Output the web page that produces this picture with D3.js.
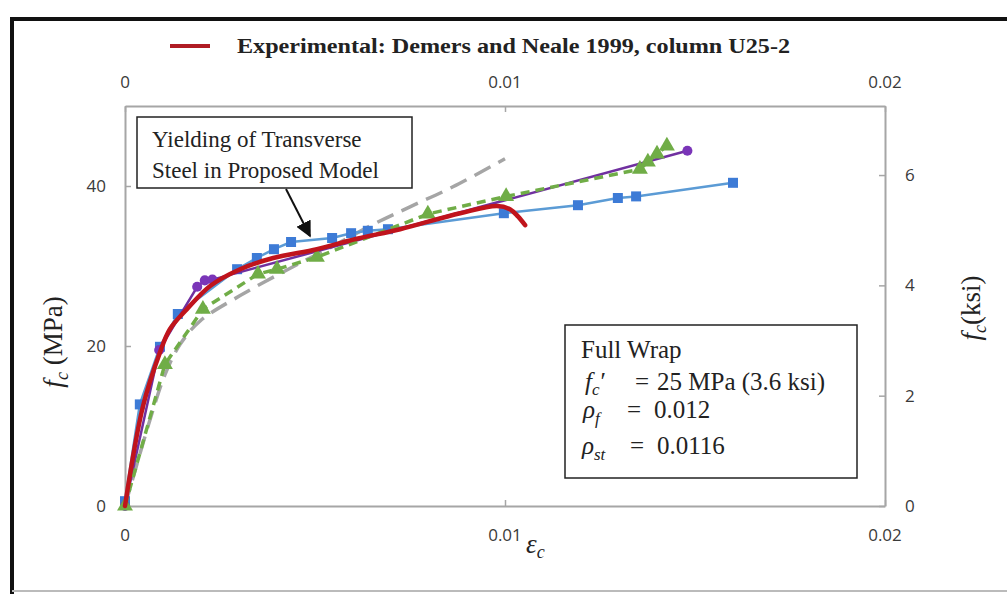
<!DOCTYPE html>
<html>
<head>
<meta charset="utf-8">
<script src="https://d3js.org/d3.v7.min.js"></script>
<style>
  body { margin: 0; background: #fff; }
  svg { display: block; }
  .tick-label { font-family: "Open Sans", sans-serif; font-size: 17px; fill: #3a3a3a; }
  .serif { font-family: "Liberation Serif", "Times New Roman", serif; fill: #222; }
</style>
</head>
<body>
<div id="main"></div>
<script>
// page size
var W = 1007, H = 594;

// plot area (pixels)
var plot = {left: 125, right: 885, top: 106, bottom: 506};

// strain ticks and stress ticks
var strainTicks = [0, 0.01, 0.02];
var mpaTicks = [0, 20, 40];
var ksiTicks = [0, 2, 4, 6];
var MPA_PER_KSI = 6.895;

// experimental curve (red)
var expStrain = [0, 0.00047, 0.00092, 0.00118, 0.00163, 0.00224, 0.00303, 0.0039, 0.00505, 0.0061, 0.00724, 0.00882, 0.00979, 0.01013, 0.01034, 0.01053];
var expStress = [0, 12.4, 19.2, 22.1, 24.6, 27.5, 29.6, 31.0, 32.1, 33.4, 34.6, 36.6, 37.5, 37.1, 36.2, 35.1];

// blue model (squares)
var blueStrain = [0, 0.00039, 0.00092, 0.00139, 0.00295, 0.00347, 0.00392, 0.00437, 0.00545, 0.00595, 0.00639, 0.00692, 0.00997, 0.01192, 0.01297, 0.01345, 0.0160];
var blueStress = [0.6, 12.7, 19.9, 24.0, 29.6, 31.0, 32.1, 33.0, 33.5, 34.1, 34.4, 34.6, 36.6, 37.6, 38.5, 38.7, 40.4];

// purple model (dots)
var purpleStrain = [0, 0.0009, 0.0019, 0.0021, 0.0023, 0.0148];
var purpleStress = [0, 19.5, 27.4, 28.2, 28.3, 44.4];

// green model (triangles, dashed)
var greenStrain = [0, 0.00105, 0.00205, 0.0035, 0.004, 0.00505, 0.00797, 0.01003, 0.01355, 0.01376, 0.014, 0.01426];
var greenStress = [0, 17.7, 24.6, 29.0, 29.6, 31.1, 36.5, 38.7, 42.1, 43.0, 44.0, 45.0];

// grey model (long dashes, no markers)
var greyStrain = [0, 0.00066, 0.00105, 0.00145, 0.00197, 0.00303, 0.00426, 0.0054, 0.00653, 0.0075, 0.00863, 0.0100];
var greyStress = [0, 10.8, 16.4, 20.2, 23.1, 26.3, 29.5, 32.3, 35.2, 37.4, 39.9, 43.4];

function pairs(xs, ys) {
    return xs.map(function(d, i) { return [d, ys[i]]; });
}

// scales
var x = d3.scaleLinear().domain([0, 0.02]).range([plot.left, plot.right]);
var y = d3.scaleLinear().domain([0, 50]).range([plot.bottom, plot.top]);
var yKsi = d3.scaleLinear().domain([0, 50 / MPA_PER_KSI]).range([plot.bottom, plot.top]);

var svg = d3.select("#main").append("svg")
    .attr("width", W)
    .attr("height", H);

// outer frame of the figure
svg.append("line").attr("x1", 12).attr("y1", 17).attr("x2", 12).attr("y2", H)
    .attr("stroke", "#111").attr("stroke-width", 4);
svg.append("line").attr("x1", 10).attr("y1", 19).attr("x2", W).attr("y2", 19)
    .attr("stroke", "#111").attr("stroke-width", 4);
svg.append("line").attr("x1", 12).attr("y1", 591).attr("x2", W).attr("y2", 591)
    .attr("stroke", "#bbb").attr("stroke-width", 2);

// legend
svg.append("line").attr("x1", 170).attr("x2", 210).attr("y1", 46).attr("y2", 46)
    .attr("stroke", "#b01c24").attr("stroke-width", 4);
svg.append("text").attr("class", "serif")
    .attr("x", 237).attr("y", 53)
    .attr("font-size", 20).attr("font-weight", "bold")
    .attr("textLength", 553).attr("lengthAdjust", "spacingAndGlyphs")
    .text("Experimental: Demers and Neale 1999, column U25-2");

// axes
function styleAxis(g) {
    g.selectAll("path.domain").attr("stroke", "#a6a6a6").attr("stroke-width", 2);
    g.selectAll(".tick line").attr("stroke", "#a6a6a6").attr("stroke-width", 1.5);
}

var fmt = function(d) { return d === 0 ? "0" : d3.format(".2")(d); };

svg.append("g")
    .attr("transform", "translate(0," + plot.bottom + ")")
    .call(d3.axisTop(x).tickValues(strainTicks).tickSizeInner(6).tickSizeOuter(0).tickFormat(""))
    .call(styleAxis);
svg.selectAll(".xlab-bottom").data(strainTicks).enter().append("text")
    .attr("class", "tick-label")
    .attr("x", function(d) { return x(d); }).attr("y", 541)
    .attr("text-anchor", "middle").text(fmt);

svg.append("g")
    .attr("transform", "translate(0," + plot.top + ")")
    .call(d3.axisBottom(x).tickValues(strainTicks).tickSizeInner(6).tickSizeOuter(0).tickFormat(""))
    .call(styleAxis);
svg.selectAll(".xlab-top").data(strainTicks).enter().append("text")
    .attr("class", "tick-label")
    .attr("x", function(d) { return x(d); }).attr("y", 88)
    .attr("text-anchor", "middle").text(fmt);

svg.append("g")
    .attr("transform", "translate(" + plot.left + ",0)")
    .call(d3.axisRight(y).tickValues(mpaTicks).tickSizeInner(6).tickSizeOuter(0).tickFormat(""))
    .call(styleAxis);
svg.selectAll(".ylab").data(mpaTicks).enter().append("text")
    .attr("class", "tick-label")
    .attr("x", 106).attr("y", function(d) { return y(d) + 6; })
    .attr("text-anchor", "end").text(function(d) { return d; });

svg.append("g")
    .attr("transform", "translate(" + plot.right + ",0)")
    .call(d3.axisLeft(yKsi).tickValues(ksiTicks).tickSizeInner(6).tickSizeOuter(0).tickFormat(""))
    .call(styleAxis);
svg.selectAll(".ylab-ksi").data(ksiTicks).enter().append("text")
    .attr("class", "tick-label")
    .attr("x", 905).attr("y", function(d) { return yKsi(d) + 6; })
    .attr("text-anchor", "start").text(function(d) { return d; });

// axis titles
function fcLabel(tx, ty, unit) {
    var t = svg.append("text").attr("class", "serif")
        .attr("font-size", 27)
        .attr("transform", "translate(" + tx + "," + ty + ") rotate(-90)")
        .attr("text-anchor", "middle").attr("fill", "#333");
    t.append("tspan").attr("font-style", "italic").text("f");
    t.append("tspan").attr("font-style", "italic").attr("font-size", 18).attr("dy", 6).text("c");
    t.append("tspan").attr("dy", -6).text(unit);
}
fcLabel(62, 342, " (MPa)");
fcLabel(980, 308, "(ksi)");

var eps = svg.append("text").attr("class", "serif")
    .attr("x", 526).attr("y", 553).attr("font-size", 27).attr("fill", "#333");
eps.append("tspan").attr("font-style", "italic").text("ε");
eps.append("tspan").attr("font-style", "italic").attr("font-size", 18).attr("dy", 5).text("c");

// curves
var line = d3.line().x(function(d) { return x(d[0]); }).y(function(d) { return y(d[1]); });
var smooth = d3.line().curve(d3.curveCatmullRom)
    .x(function(d) { return x(d[0]); }).y(function(d) { return y(d[1]); });

var greyData = pairs(greyStrain, greyStress);
var blueData = pairs(blueStrain, blueStress);
var purpleData = pairs(purpleStrain, purpleStress);
var greenData = pairs(greenStrain, greenStress);
var expData = pairs(expStrain, expStress);

svg.append("path").datum(greyData)
    .attr("d", smooth).attr("fill", "none")
    .attr("stroke", "#a5a5a5").attr("stroke-width", 3.5).attr("stroke-dasharray", "18,9");

svg.append("path").datum(blueData)
    .attr("d", line).attr("fill", "none")
    .attr("stroke", "#5b9bd5").attr("stroke-width", 2.5);
svg.selectAll(".sq").data(blueData).enter().append("rect")
    .attr("x", function(d) { return x(d[0]) - 5; })
    .attr("y", function(d) { return y(d[1]) - 5; })
    .attr("width", 10).attr("height", 10)
    .attr("fill", "#3d7bd6");

svg.append("path").datum(purpleData)
    .attr("d", line).attr("fill", "none")
    .attr("stroke", "#7030a0").attr("stroke-width", 2.5);
svg.selectAll(".dm").data(purpleData).enter().append("path")
    .attr("transform", function(d) { return "translate(" + x(d[0]) + "," + y(d[1]) + ")"; })
    .attr("d", d3.symbol().type(d3.symbolCircle).size(80))
    .attr("fill", "#7a35b8");

svg.append("path").datum(greenData)
    .attr("d", line).attr("fill", "none")
    .attr("stroke", "#70ad47").attr("stroke-width", 3.5).attr("stroke-dasharray", "9,6");
svg.selectAll(".tri").data(greenData).enter().append("path")
    .attr("transform", function(d) { return "translate(" + x(d[0]) + "," + y(d[1]) + ")"; })
    .attr("d", d3.symbol().type(d3.symbolTriangle).size(110))
    .attr("fill", "#70ad47");

svg.append("path").datum(expData)
    .attr("d", smooth).attr("fill", "none")
    .attr("stroke", "#c0141c").attr("stroke-width", 4.5)
    .attr("stroke-linecap", "round");

// annotation box with arrow
svg.append("defs").append("marker")
    .attr("id", "arrow").attr("viewBox", "0 0 10 10")
    .attr("refX", 9).attr("refY", 5)
    .attr("markerWidth", 8).attr("markerHeight", 8)
    .attr("orient", "auto-start-reverse")
    .append("path").attr("d", "M0,0 L10,5 L0,10 z").attr("fill", "#111");

svg.append("line")
    .attr("x1", 286).attr("y1", 189).attr("x2", 310).attr("y2", 236)
    .attr("stroke", "#111").attr("stroke-width", 2)
    .attr("marker-end", "url(#arrow)");

svg.append("rect").attr("x", 137).attr("y", 117).attr("width", 275).attr("height", 71)
    .attr("fill", "#fff").attr("stroke", "#222").attr("stroke-width", 1.5);
svg.append("text").attr("class", "serif").attr("x", 152).attr("y", 147)
    .attr("font-size", 23).attr("fill", "#333").text("Yielding of Transverse");
svg.append("text").attr("class", "serif").attr("x", 152).attr("y", 178)
    .attr("font-size", 23).attr("fill", "#333").text("Steel in Proposed Model");

// info box
svg.append("rect").attr("x", 565).attr("y", 325).attr("width", 292).attr("height", 153)
    .attr("fill", "#fff").attr("stroke", "#222").attr("stroke-width", 1.5);

var info = svg.append("g").attr("class", "serif").attr("font-size", 25).attr("fill", "#222");
info.append("text").attr("x", 581).attr("y", 358).text("Full Wrap");

var l2 = info.append("text").attr("y", 390);
l2.append("tspan").attr("x", 585).attr("font-style", "italic").text("f");
l2.append("tspan").attr("font-style", "italic").attr("font-size", 17).attr("dy", 5).text("c");
l2.append("tspan").attr("dx", 1).attr("dy", -5).text("\u2032");
l2.append("tspan").attr("x", 635).text("=");
l2.append("tspan").attr("x", 657).text("25 MPa (3.6 ksi)");

var l3 = info.append("text").attr("y", 418);
l3.append("tspan").attr("x", 583).attr("font-style", "italic").text("\u03c1");
l3.append("tspan").attr("font-style", "italic").attr("font-size", 17).attr("dy", 6).text("f");
l3.append("tspan").attr("x", 627).attr("dy", -6).text("=");
l3.append("tspan").attr("x", 654).text("0.012");

var l4 = info.append("text").attr("y", 454);
l4.append("tspan").attr("x", 582).attr("font-style", "italic").text("\u03c1");
l4.append("tspan").attr("font-style", "italic").attr("font-size", 17).attr("dy", 6).text("st");
l4.append("tspan").attr("x", 630).attr("dy", -6).text("=");
l4.append("tspan").attr("x", 657).text("0.0116");
</script>
</body>
</html>
